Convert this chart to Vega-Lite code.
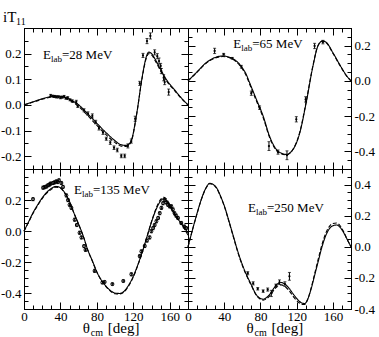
{
"$schema": "https://vega.github.io/schema/vega-lite/v6.json",
"padding": {"left": -1, "top": 9, "right": 0, "bottom": 0},
"bounds": "flush",
"spacing": 0,
"columns": 2,
"config": {
  "font": "Liberation Serif",
  "view": {"stroke": "black", "strokeWidth": 1},
  "axis": {"domainColor": "black", "tickColor": "black", "labelColor": "black", "labelFont": "Liberation Serif", "labelFontSize": 13, "grid": false, "domainWidth": 1, "tickWidth": 1, "title": null, "labelFlush": false, "labelOverlap": false},
  "text": {"font": "Liberation Serif", "color": "black"}
},
"datasets": {
  "c28": [
    {"t":0,"v":0,"s":"solid"},{"t":10,"v":0.012,"s":"solid"},{"t":20,"v":0.024,"s":"solid"},{"t":30,"v":0.033,"s":"solid"},{"t":36,"v":0.035,"s":"solid"},{"t":42,"v":0.033,"s":"solid"},{"t":50,"v":0.022,"s":"solid"},{"t":60,"v":0.0,"s":"solid"},{"t":70,"v":-0.035,"s":"solid"},{"t":80,"v":-0.072,"s":"solid"},{"t":90,"v":-0.108,"s":"solid"},{"t":100,"v":-0.14,"s":"solid"},{"t":106,"v":-0.155,"s":"solid"},{"t":112,"v":-0.158,"s":"solid"},{"t":116,"v":-0.15,"s":"solid"},{"t":119,"v":-0.125,"s":"solid"},{"t":122,"v":-0.07,"s":"solid"},{"t":125,"v":-0.005,"s":"solid"},{"t":128,"v":0.07,"s":"solid"},{"t":131,"v":0.135,"s":"solid"},{"t":134,"v":0.185,"s":"solid"},{"t":137,"v":0.206,"s":"solid"},{"t":140,"v":0.2,"s":"solid"},{"t":144,"v":0.178,"s":"solid"},{"t":150,"v":0.138,"s":"solid"},{"t":158,"v":0.09,"s":"solid"},{"t":165,"v":0.06,"s":"solid"},{"t":172,"v":0.03,"s":"solid"},{"t":180,"v":0.0,"s":"solid"},
    {"t":0,"v":0,"s":"dashed"},{"t":10,"v":0.011,"s":"dashed"},{"t":20,"v":0.022,"s":"dashed"},{"t":30,"v":0.03,"s":"dashed"},{"t":36,"v":0.032,"s":"dashed"},{"t":42,"v":0.03,"s":"dashed"},{"t":50,"v":0.018,"s":"dashed"},{"t":60,"v":-0.006,"s":"dashed"},{"t":70,"v":-0.042,"s":"dashed"},{"t":80,"v":-0.08,"s":"dashed"},{"t":90,"v":-0.116,"s":"dashed"},{"t":100,"v":-0.147,"s":"dashed"},{"t":106,"v":-0.16,"s":"dashed"},{"t":112,"v":-0.162,"s":"dashed"},{"t":116,"v":-0.153,"s":"dashed"},{"t":119,"v":-0.128,"s":"dashed"},{"t":122,"v":-0.072,"s":"dashed"},{"t":125,"v":-0.006,"s":"dashed"},{"t":128,"v":0.068,"s":"dashed"},{"t":131,"v":0.132,"s":"dashed"},{"t":134,"v":0.18,"s":"dashed"},{"t":137,"v":0.2,"s":"dashed"},{"t":140,"v":0.195,"s":"dashed"},{"t":144,"v":0.172,"s":"dashed"},{"t":150,"v":0.133,"s":"dashed"},{"t":158,"v":0.086,"s":"dashed"},{"t":165,"v":0.057,"s":"dashed"},{"t":172,"v":0.028,"s":"dashed"},{"t":180,"v":0.0,"s":"dashed"}
  ],
  "d28": [
    {"t":29.3,"v":0.037,"e":0.004},{"t":31.5,"v":0.034,"e":0.004},{"t":33.5,"v":0.033,"e":0.004},{"t":35.5,"v":0.031,"e":0.004},{"t":37.5,"v":0.031,"e":0.004},{"t":40,"v":0.028,"e":0.004},{"t":42,"v":0.03,"e":0.004},{"t":44,"v":0.033,"e":0.004},{"t":46,"v":0.026,"e":0.004},{"t":48,"v":0.028,"e":0.004},{"t":50.5,"v":0.02,"e":0.004},{"t":53,"v":0.015,"e":0.005},{"t":57.4,"v":0.012,"e":0.006},{"t":59,"v":-0.005,"e":0.005},{"t":65.9,"v":-0.021,"e":0.006},{"t":70.2,"v":-0.034,"e":0.007},{"t":75,"v":-0.043,"e":0.008},{"t":78.7,"v":-0.067,"e":0.007},{"t":82.3,"v":-0.091,"e":0.007},{"t":86.7,"v":-0.108,"e":0.007},{"t":90.3,"v":-0.132,"e":0.006},{"t":94.7,"v":-0.147,"e":0.007},{"t":98.8,"v":-0.167,"e":0.007},{"t":102.4,"v":-0.176,"e":0.007},{"t":106.8,"v":-0.199,"e":0.007},{"t":110.5,"v":-0.199,"e":0.007},{"t":114,"v":-0.16,"e":0.008},{"t":117.8,"v":-0.141,"e":0.008},{"t":122,"v":-0.054,"e":0.01},{"t":127,"v":0.084,"e":0.008},{"t":130.6,"v":0.193,"e":0.008},{"t":135,"v":0.249,"e":0.01},{"t":138.7,"v":0.269,"e":0.012},{"t":143.4,"v":0.205,"e":0.01},{"t":146.3,"v":0.19,"e":0.01},{"t":148.2,"v":0.171,"e":0.012},{"t":150,"v":0.152,"e":0.01},{"t":150.7,"v":0.132,"e":0.01},{"t":153.3,"v":0.106,"e":0.012},{"t":154.4,"v":0.089,"e":0.01},{"t":158.8,"v":0.05,"e":0.012}
  ],
  "c65": [
    {"t":0,"v":0,"s":"solid"},{"t":9,"v":0.046,"s":"solid"},{"t":20,"v":0.103,"s":"solid"},{"t":29,"v":0.131,"s":"solid"},{"t":38.5,"v":0.141,"s":"solid"},{"t":49.5,"v":0.126,"s":"solid"},{"t":59,"v":0.081,"s":"solid"},{"t":64,"v":0.04,"s":"solid"},{"t":68,"v":-0.01,"s":"solid"},{"t":75.5,"v":-0.105,"s":"solid"},{"t":83,"v":-0.2,"s":"solid"},{"t":90,"v":-0.313,"s":"solid"},{"t":97.5,"v":-0.389,"s":"solid"},{"t":103,"v":-0.41,"s":"solid"},{"t":108.5,"v":-0.417,"s":"solid"},{"t":116,"v":-0.389,"s":"solid"},{"t":123.5,"v":-0.294,"s":"solid"},{"t":130.5,"v":-0.124,"s":"solid"},{"t":138,"v":0.084,"s":"solid"},{"t":143.5,"v":0.198,"s":"solid"},{"t":148.5,"v":0.226,"s":"solid"},{"t":153,"v":0.217,"s":"solid"},{"t":160,"v":0.16,"s":"solid"},{"t":169.5,"v":0.075,"s":"solid"},{"t":175,"v":0.03,"s":"solid"},{"t":180,"v":0.0,"s":"solid"},
    {"t":0,"v":0,"s":"dashed"},{"t":9,"v":0.044,"s":"dashed"},{"t":20,"v":0.1,"s":"dashed"},{"t":29,"v":0.128,"s":"dashed"},{"t":38.5,"v":0.138,"s":"dashed"},{"t":49.5,"v":0.122,"s":"dashed"},{"t":59,"v":0.075,"s":"dashed"},{"t":64,"v":0.033,"s":"dashed"},{"t":68,"v":-0.018,"s":"dashed"},{"t":75.5,"v":-0.113,"s":"dashed"},{"t":83,"v":-0.208,"s":"dashed"},{"t":90,"v":-0.32,"s":"dashed"},{"t":97.5,"v":-0.394,"s":"dashed"},{"t":103,"v":-0.414,"s":"dashed"},{"t":108.5,"v":-0.42,"s":"dashed"},{"t":116,"v":-0.388,"s":"dashed"},{"t":123.5,"v":-0.29,"s":"dashed"},{"t":130.5,"v":-0.118,"s":"dashed"},{"t":138,"v":0.088,"s":"dashed"},{"t":143.5,"v":0.2,"s":"dashed"},{"t":148.5,"v":0.226,"s":"dashed"},{"t":153,"v":0.215,"s":"dashed"},{"t":160,"v":0.157,"s":"dashed"},{"t":169.5,"v":0.072,"s":"dashed"},{"t":175,"v":0.028,"s":"dashed"},{"t":180,"v":0.0,"s":"dashed"}
  ],
  "d65": [
    {"t":29.4,"v":0.17,"e":0.015},{"t":39.4,"v":0.151,"e":0.005},{"t":48.9,"v":0.128,"e":0.005},{"t":58.9,"v":0.08,"e":0.008},{"t":69.9,"v":-0.07,"e":0.012},{"t":79.1,"v":-0.152,"e":0.01},{"t":89.4,"v":-0.37,"e":0.025},{"t":99.4,"v":-0.404,"e":0.012},{"t":109.3,"v":-0.422,"e":0.025},{"t":119.6,"v":-0.218,"e":0.015},{"t":129.9,"v":-0.105,"e":0.015},{"t":139.8,"v":0.198,"e":0.015},{"t":149,"v":0.22,"e":0.01}
  ],
  "c135": [
    {"t":0,"v":0,"s":"solid"},{"t":5,"v":0.06,"s":"solid"},{"t":10,"v":0.12,"s":"solid"},{"t":15,"v":0.17,"s":"solid"},{"t":20,"v":0.215,"s":"solid"},{"t":25,"v":0.25,"s":"solid"},{"t":30,"v":0.275,"s":"solid"},{"t":35,"v":0.288,"s":"solid"},{"t":40,"v":0.28,"s":"solid"},{"t":45,"v":0.245,"s":"solid"},{"t":50,"v":0.19,"s":"solid"},{"t":55,"v":0.115,"s":"solid"},{"t":60,"v":0.045,"s":"solid"},{"t":65,"v":-0.03,"s":"solid"},{"t":70,"v":-0.12,"s":"solid"},{"t":75,"v":-0.19,"s":"solid"},{"t":80,"v":-0.262,"s":"solid"},{"t":85,"v":-0.315,"s":"solid"},{"t":90,"v":-0.353,"s":"solid"},{"t":95,"v":-0.382,"s":"solid"},{"t":100,"v":-0.398,"s":"solid"},{"t":105,"v":-0.4,"s":"solid"},{"t":110,"v":-0.385,"s":"solid"},{"t":115,"v":-0.345,"s":"solid"},{"t":120,"v":-0.29,"s":"solid"},{"t":125,"v":-0.215,"s":"solid"},{"t":130,"v":-0.13,"s":"solid"},{"t":135,"v":-0.035,"s":"solid"},{"t":140,"v":0.06,"s":"solid"},{"t":145,"v":0.14,"s":"solid"},{"t":150,"v":0.195,"s":"solid"},{"t":153,"v":0.208,"s":"solid"},{"t":156,"v":0.2,"s":"solid"},{"t":160,"v":0.16,"s":"solid"},{"t":165,"v":0.11,"s":"solid"},{"t":170,"v":0.07,"s":"solid"},{"t":175,"v":0.03,"s":"solid"},{"t":180,"v":-0.01,"s":"solid"},
    {"t":0,"v":0,"s":"dashed"},{"t":5,"v":0.058,"s":"dashed"},{"t":10,"v":0.115,"s":"dashed"},{"t":15,"v":0.165,"s":"dashed"},{"t":20,"v":0.21,"s":"dashed"},{"t":25,"v":0.245,"s":"dashed"},{"t":30,"v":0.27,"s":"dashed"},{"t":35,"v":0.283,"s":"dashed"},{"t":40,"v":0.276,"s":"dashed"},{"t":45,"v":0.242,"s":"dashed"},{"t":50,"v":0.188,"s":"dashed"},{"t":55,"v":0.113,"s":"dashed"},{"t":60,"v":0.043,"s":"dashed"},{"t":65,"v":-0.032,"s":"dashed"},{"t":70,"v":-0.122,"s":"dashed"},{"t":75,"v":-0.192,"s":"dashed"},{"t":80,"v":-0.264,"s":"dashed"},{"t":85,"v":-0.317,"s":"dashed"},{"t":90,"v":-0.356,"s":"dashed"},{"t":95,"v":-0.386,"s":"dashed"},{"t":100,"v":-0.402,"s":"dashed"},{"t":105,"v":-0.404,"s":"dashed"},{"t":110,"v":-0.39,"s":"dashed"},{"t":115,"v":-0.35,"s":"dashed"},{"t":120,"v":-0.294,"s":"dashed"},{"t":125,"v":-0.218,"s":"dashed"},{"t":130,"v":-0.132,"s":"dashed"},{"t":135,"v":-0.035,"s":"dashed"},{"t":140,"v":0.063,"s":"dashed"},{"t":145,"v":0.148,"s":"dashed"},{"t":150,"v":0.205,"s":"dashed"},{"t":153,"v":0.218,"s":"dashed"},{"t":156,"v":0.21,"s":"dashed"},{"t":160,"v":0.17,"s":"dashed"},{"t":165,"v":0.117,"s":"dashed"},{"t":170,"v":0.072,"s":"dashed"},{"t":175,"v":0.025,"s":"dashed"},{"t":180,"v":-0.025,"s":"dashed"}
  ],
  "d135": [
    {"t":9.9,"v":0.206,"e":0.01},{"t":20.9,"v":0.28,"e":0.01},{"t":22.5,"v":0.283,"e":0.01},{"t":24.5,"v":0.287,"e":0.01},{"t":26.3,"v":0.295,"e":0.01},{"t":28,"v":0.3,"e":0.01},{"t":29.2,"v":0.306,"e":0.01},{"t":31.8,"v":0.31,"e":0.01},{"t":33.5,"v":0.314,"e":0.01},{"t":35.5,"v":0.32,"e":0.01},{"t":37,"v":0.316,"e":0.01},{"t":38.4,"v":0.327,"e":0.01},{"t":41,"v":0.31,"e":0.01},{"t":42.8,"v":0.285,"e":0.01},{"t":46.5,"v":0.23,"e":0.01},{"t":48.3,"v":0.2,"e":0.01},{"t":50,"v":0.17,"e":0.01},{"t":52,"v":0.15,"e":0.01},{"t":55.6,"v":0.074,"e":0.01},{"t":58,"v":0.04,"e":0.01},{"t":61,"v":-0.01,"e":0.01},{"t":63,"v":-0.04,"e":0.01},{"t":65.9,"v":-0.096,"e":0.01},{"t":67.5,"v":-0.12,"e":0.01},{"t":77.5,"v":-0.255,"e":0.01},{"t":86,"v":-0.33,"e":0.008},{"t":88.5,"v":-0.326,"e":0.008},{"t":97,"v":-0.34,"e":0.008},{"t":109,"v":-0.32,"e":0.008},{"t":117.8,"v":-0.277,"e":0.01},{"t":127,"v":-0.16,"e":0.01},{"t":128.8,"v":-0.13,"e":0.01},{"t":132.5,"v":-0.095,"e":0.01},{"t":135,"v":-0.06,"e":0.01},{"t":137.9,"v":-0.04,"e":0.01},{"t":139.8,"v":0.0,"e":0.01},{"t":141.7,"v":0.02,"e":0.01},{"t":143.4,"v":0.04,"e":0.01},{"t":145.3,"v":0.064,"e":0.01},{"t":147.2,"v":0.085,"e":0.01},{"t":149,"v":0.116,"e":0.01},{"t":150.8,"v":0.15,"e":0.01},{"t":152.6,"v":0.18,"e":0.01},{"t":154.4,"v":0.2,"e":0.01},{"t":156.2,"v":0.185,"e":0.01},{"t":158,"v":0.17,"e":0.01},{"t":159.8,"v":0.16,"e":0.01},{"t":161.7,"v":0.16,"e":0.01},{"t":163.5,"v":0.14,"e":0.01},{"t":165.3,"v":0.115,"e":0.01},{"t":167,"v":0.1,"e":0.01},{"t":169,"v":0.085,"e":0.01},{"t":172.6,"v":0.053,"e":0.01},{"t":176,"v":0.03,"e":0.01},{"t":178,"v":0.02,"e":0.01}
  ],
  "c250": [
    {"t":0,"v":0,"s":"solid"},{"t":5,"v":0.11,"s":"solid"},{"t":10,"v":0.215,"s":"solid"},{"t":15,"v":0.31,"s":"solid"},{"t":20,"v":0.38,"s":"solid"},{"t":24,"v":0.408,"s":"solid"},{"t":28,"v":0.4,"s":"solid"},{"t":32,"v":0.375,"s":"solid"},{"t":36,"v":0.325,"s":"solid"},{"t":40,"v":0.265,"s":"solid"},{"t":45,"v":0.17,"s":"solid"},{"t":50,"v":0.07,"s":"solid"},{"t":55,"v":-0.03,"s":"solid"},{"t":60,"v":-0.115,"s":"solid"},{"t":65,"v":-0.185,"s":"solid"},{"t":70,"v":-0.245,"s":"solid"},{"t":75,"v":-0.305,"s":"solid"},{"t":80,"v":-0.332,"s":"solid"},{"t":83,"v":-0.337,"s":"solid"},{"t":87,"v":-0.325,"s":"solid"},{"t":91,"v":-0.3,"s":"solid"},{"t":95,"v":-0.265,"s":"solid"},{"t":99,"v":-0.238,"s":"solid"},{"t":103,"v":-0.23,"s":"solid"},{"t":107,"v":-0.24,"s":"solid"},{"t":112,"v":-0.27,"s":"solid"},{"t":117,"v":-0.31,"s":"solid"},{"t":122,"v":-0.345,"s":"solid"},{"t":126,"v":-0.362,"s":"solid"},{"t":129,"v":-0.365,"s":"solid"},{"t":132,"v":-0.34,"s":"solid"},{"t":136,"v":-0.27,"s":"solid"},{"t":140,"v":-0.18,"s":"solid"},{"t":144,"v":-0.09,"s":"solid"},{"t":148,"v":0.0,"s":"solid"},{"t":152,"v":0.07,"s":"solid"},{"t":156,"v":0.115,"s":"solid"},{"t":160,"v":0.135,"s":"solid"},{"t":164,"v":0.14,"s":"solid"},{"t":168,"v":0.125,"s":"solid"},{"t":172,"v":0.09,"s":"solid"},{"t":176,"v":0.045,"s":"solid"},{"t":180,"v":0.0,"s":"solid"},
    {"t":0,"v":0,"s":"dashed"},{"t":5,"v":0.11,"s":"dashed"},{"t":10,"v":0.213,"s":"dashed"},{"t":15,"v":0.308,"s":"dashed"},{"t":20,"v":0.378,"s":"dashed"},{"t":24,"v":0.406,"s":"dashed"},{"t":28,"v":0.398,"s":"dashed"},{"t":32,"v":0.372,"s":"dashed"},{"t":36,"v":0.322,"s":"dashed"},{"t":40,"v":0.262,"s":"dashed"},{"t":45,"v":0.166,"s":"dashed"},{"t":50,"v":0.065,"s":"dashed"},{"t":55,"v":-0.035,"s":"dashed"},{"t":60,"v":-0.12,"s":"dashed"},{"t":65,"v":-0.19,"s":"dashed"},{"t":70,"v":-0.25,"s":"dashed"},{"t":75,"v":-0.308,"s":"dashed"},{"t":80,"v":-0.337,"s":"dashed"},{"t":83,"v":-0.343,"s":"dashed"},{"t":87,"v":-0.333,"s":"dashed"},{"t":91,"v":-0.31,"s":"dashed"},{"t":95,"v":-0.278,"s":"dashed"},{"t":99,"v":-0.252,"s":"dashed"},{"t":103,"v":-0.245,"s":"dashed"},{"t":107,"v":-0.255,"s":"dashed"},{"t":112,"v":-0.285,"s":"dashed"},{"t":117,"v":-0.325,"s":"dashed"},{"t":122,"v":-0.357,"s":"dashed"},{"t":126,"v":-0.37,"s":"dashed"},{"t":129,"v":-0.37,"s":"dashed"},{"t":132,"v":-0.34,"s":"dashed"},{"t":136,"v":-0.265,"s":"dashed"},{"t":140,"v":-0.17,"s":"dashed"},{"t":144,"v":-0.075,"s":"dashed"},{"t":148,"v":0.015,"s":"dashed"},{"t":152,"v":0.085,"s":"dashed"},{"t":156,"v":0.13,"s":"dashed"},{"t":160,"v":0.15,"s":"dashed"},{"t":164,"v":0.153,"s":"dashed"},{"t":168,"v":0.135,"s":"dashed"},{"t":172,"v":0.095,"s":"dashed"},{"t":176,"v":0.045,"s":"dashed"},{"t":180,"v":0.0,"s":"dashed"}
  ],
  "d250": [
    {"t":66,"v":-0.17,"e":0.01},{"t":72,"v":-0.235,"e":0.01},{"t":77,"v":-0.27,"e":0.008},{"t":83,"v":-0.285,"e":0.008},{"t":88,"v":-0.275,"e":0.01},{"t":92,"v":-0.3,"e":0.02},{"t":97,"v":-0.25,"e":0.01},{"t":101,"v":-0.228,"e":0.015},{"t":107,"v":-0.24,"e":0.015},{"t":112,"v":-0.19,"e":0.025}
  ],
  "a28": [{"t":20.9,"v":0.178,"label":"=28 MeV"}],
  "a65": [{"t":50,"v":0.188,"label":"=65 MeV"}],
  "a135": [{"t":54.9,"v":0.237,"label":"=135 MeV"}],
  "a250": [{"t":66.3,"v":0.222,"label":"=250 MeV"}],
  "ytitle": [{"t":0,"v":0.3}],
  "xtBL": [{"t":64.6,"v":-0.5}],
  "xtBR": [{"t":64.6,"v":-0.4}]
},
"concat": [
  {"width": 164, "height": 141,
   "resolve": {"axis": {"x": "independent", "y": "independent"}},
   "layer": [
    {"data": {"name": "c28"}, "mark": {"type": "line", "color": "black", "strokeWidth": 1.1, "interpolate": "monotone"},
     "encoding": {
      "x": {"field": "t", "type": "quantitative", "scale": {"domain": [0,180], "nice": false, "zero": false},
            "axis": {"orient": "bottom", "values": [0,10,20,30,40,50,60,70,80,90,100,110,120,130,140,150,160,170,180], "labels": false, "tickSize": {"condition": {"test": "datum.value % 40 === 0", "value": -7}, "value": -4}}},
      "y": {"field": "v", "type": "quantitative", "scale": {"domain": [-0.25,0.3], "nice": false, "zero": false},
            "axis": {"orient": "left", "values": [-0.25,-0.2,-0.15,-0.1,-0.05,0,0.05,0.1,0.15,0.2,0.25,0.3], "tickSize": {"condition": {"test": "abs(datum.value*10-round(datum.value*10))<0.001", "value": -7}, "value": -4}, "labelPadding": 10, "labelExpr": "abs(datum.value*10-round(datum.value*10))<0.001 && abs(datum.value)<0.25 ? replace(format(datum.value, '.1f'), '\u2212', '-') : ''"}},
      "strokeDash": {"field": "s", "type": "nominal", "scale": {"domain": ["solid","dashed"], "range": [[1,0],[4,2]]}, "legend": null}
     }},
    {"data": {"name": "d28"}, "mark": {"type": "errorbar", "ticks": {"size": 3}, "color": "black"},
     "encoding": {"x": {"field": "t", "type": "quantitative", "axis": null}, "y": {"field": "v", "type": "quantitative", "axis": null}, "yError": {"field": "e"}}},
    {"data": {"name": "d28"}, "mark": {"type": "point", "filled": true, "size": 5, "color": "black", "opacity": 1},
     "encoding": {
      "x": {"field": "t", "type": "quantitative", "axis": {"orient": "top", "values": [0,10,20,30,40,50,60,70,80,90,100,110,120,130,140,150,160,170,180], "labels": false, "tickSize": {"condition": {"test": "datum.value % 40 === 0", "value": -7}, "value": -4}}},
      "y": {"field": "v", "type": "quantitative", "axis": {"orient": "right", "values": [-0.25,-0.2,-0.15,-0.1,-0.05,0,0.05,0.1,0.15,0.2,0.25,0.3], "labels": false, "tickSize": {"condition": {"test": "abs(datum.value*10-round(datum.value*10))<0.001", "value": -7}, "value": -4}}}
     }},
    {"data": {"name": "a28"}, "mark": {"type": "text", "text": "E", "align": "left", "baseline": "alphabetic", "fontSize": 13},
     "encoding": {"x": {"field": "t", "type": "quantitative", "axis": null}, "y": {"field": "v", "type": "quantitative", "axis": null}}},
    {"data": {"name": "a28"}, "mark": {"type": "text", "text": "lab", "align": "left", "baseline": "alphabetic", "fontSize": 9, "dx": 8, "dy": 3},
     "encoding": {"x": {"field": "t", "type": "quantitative", "axis": null}, "y": {"field": "v", "type": "quantitative", "axis": null}}},
    {"data": {"name": "a28"}, "mark": {"type": "text", "align": "left", "baseline": "alphabetic", "fontSize": 13, "dx": 19},
     "encoding": {"x": {"field": "t", "type": "quantitative", "axis": null}, "y": {"field": "v", "type": "quantitative", "axis": null}, "text": {"field": "label"}}},
    {"data": {"name": "ytitle"}, "mark": {"type": "text", "text": "iT", "align": "left", "baseline": "alphabetic", "fontSize": 15, "dx": -21, "dy": -6},
     "encoding": {"x": {"field": "t", "type": "quantitative", "axis": null}, "y": {"field": "v", "type": "quantitative", "axis": null}}},
    {"data": {"name": "ytitle"}, "mark": {"type": "text", "text": "11", "align": "left", "baseline": "alphabetic", "fontSize": 10, "dx": -8, "dy": -3},
     "encoding": {"x": {"field": "t", "type": "quantitative", "axis": null}, "y": {"field": "v", "type": "quantitative", "axis": null}}}
   ]},
  {"width": 163, "height": 141,
   "resolve": {"axis": {"x": "independent", "y": "independent"}},
   "layer": [
    {"data": {"name": "c65"}, "mark": {"type": "line", "color": "black", "strokeWidth": 1.1, "interpolate": "monotone"},
     "encoding": {
      "x": {"field": "t", "type": "quantitative", "scale": {"domain": [0,180], "nice": false, "zero": false},
            "axis": {"orient": "bottom", "values": [0,10,20,30,40,50,60,70,80,90,100,110,120,130,140,150,160,170,180], "labels": false, "tickSize": {"condition": {"test": "datum.value % 40 === 0", "value": -7}, "value": -4}}},
      "y": {"field": "v", "type": "quantitative", "scale": {"domain": [-0.5,0.3], "nice": false, "zero": false},
            "axis": {"orient": "left", "values": [-0.5,-0.45,-0.4,-0.35,-0.3,-0.25,-0.2,-0.15,-0.1,-0.05,0,0.05,0.1,0.15,0.2,0.25,0.3], "labels": false, "tickSize": {"condition": {"test": "abs(datum.value*5-round(datum.value*5))<0.001", "value": -7}, "value": -4}}},
      "strokeDash": {"field": "s", "type": "nominal", "scale": {"domain": ["solid","dashed"], "range": [[1,0],[4,2]]}, "legend": null}
     }},
    {"data": {"name": "d65"}, "mark": {"type": "errorbar", "ticks": {"size": 3}, "color": "black"},
     "encoding": {"x": {"field": "t", "type": "quantitative", "axis": null}, "y": {"field": "v", "type": "quantitative", "axis": null}, "yError": {"field": "e"}}},
    {"data": {"name": "d65"}, "mark": {"type": "point", "filled": true, "size": 5, "color": "black", "opacity": 1},
     "encoding": {
      "x": {"field": "t", "type": "quantitative", "axis": {"orient": "top", "values": [0,10,20,30,40,50,60,70,80,90,100,110,120,130,140,150,160,170,180], "labels": false, "tickSize": {"condition": {"test": "datum.value % 40 === 0", "value": -7}, "value": -4}}},
      "y": {"field": "v", "type": "quantitative", "axis": {"orient": "right", "values": [-0.5,-0.45,-0.4,-0.35,-0.3,-0.25,-0.2,-0.15,-0.1,-0.05,0,0.05,0.1,0.15,0.2,0.25,0.3], "tickSize": {"condition": {"test": "abs(datum.value*5-round(datum.value*5))<0.001", "value": -7}, "value": -4}, "labelPadding": 10, "labelExpr": "abs(datum.value*5-round(datum.value*5))<0.001 ? replace(format(datum.value, '.1f'), '\u2212', '-') : ''"}}
     }},
    {"data": {"name": "a65"}, "mark": {"type": "text", "text": "E", "align": "left", "baseline": "alphabetic", "fontSize": 13},
     "encoding": {"x": {"field": "t", "type": "quantitative", "axis": null}, "y": {"field": "v", "type": "quantitative", "axis": null}}},
    {"data": {"name": "a65"}, "mark": {"type": "text", "text": "lab", "align": "left", "baseline": "alphabetic", "fontSize": 9, "dx": 8, "dy": 3},
     "encoding": {"x": {"field": "t", "type": "quantitative", "axis": null}, "y": {"field": "v", "type": "quantitative", "axis": null}}},
    {"data": {"name": "a65"}, "mark": {"type": "text", "align": "left", "baseline": "alphabetic", "fontSize": 13, "dx": 19},
     "encoding": {"x": {"field": "t", "type": "quantitative", "axis": null}, "y": {"field": "v", "type": "quantitative", "axis": null}, "text": {"field": "label"}}}
   ]},
  {"width": 164, "height": 140,
   "resolve": {"axis": {"x": "independent", "y": "independent"}},
   "layer": [
    {"data": {"name": "c135"}, "mark": {"type": "line", "color": "black", "strokeWidth": 1.1, "interpolate": "monotone"},
     "encoding": {
      "x": {"field": "t", "type": "quantitative", "scale": {"domain": [0,180], "nice": false, "zero": false},
            "axis": {"orient": "bottom", "values": [0,10,20,30,40,50,60,70,80,90,100,110,120,130,140,150,160,170,180], "tickSize": {"condition": {"test": "datum.value % 40 === 0", "value": -7}, "value": -4}, "labelPadding": 8, "labelExpr": "datum.value % 40 === 0 && datum.value < 180 ? datum.label : ''"}},
      "y": {"field": "v", "type": "quantitative", "scale": {"domain": [-0.5,0.4], "nice": false, "zero": false},
            "axis": {"orient": "left", "values": [-0.5,-0.45,-0.4,-0.35,-0.3,-0.25,-0.2,-0.15,-0.1,-0.05,0,0.05,0.1,0.15,0.2,0.25,0.3,0.35,0.4], "tickSize": {"condition": {"test": "abs(datum.value*5-round(datum.value*5))<0.001", "value": -7}, "value": -4}, "labelPadding": 10, "labelExpr": "abs(datum.value*5-round(datum.value*5))<0.001 && datum.value < 0.35 ? replace(format(datum.value, '.1f'), '\u2212', '-') : ''"}},
      "strokeDash": {"field": "s", "type": "nominal", "scale": {"domain": ["solid","dashed"], "range": [[1,0],[4,2]]}, "legend": null}
     }},
    {"data": {"name": "d135"}, "mark": {"type": "errorbar", "ticks": {"size": 3}, "color": "black"},
     "encoding": {"x": {"field": "t", "type": "quantitative", "axis": null}, "y": {"field": "v", "type": "quantitative", "axis": null}, "yError": {"field": "e"}}},
    {"data": {"name": "d135"}, "mark": {"type": "point", "filled": false, "size": 9, "color": "black", "strokeWidth": 1, "opacity": 1},
     "encoding": {
      "x": {"field": "t", "type": "quantitative", "axis": {"orient": "top", "values": [0,10,20,30,40,50,60,70,80,90,100,110,120,130,140,150,160,170,180], "labels": false, "tickSize": {"condition": {"test": "datum.value % 40 === 0", "value": -7}, "value": -4}}},
      "y": {"field": "v", "type": "quantitative", "axis": {"orient": "right", "values": [-0.5,-0.45,-0.4,-0.35,-0.3,-0.25,-0.2,-0.15,-0.1,-0.05,0,0.05,0.1,0.15,0.2,0.25,0.3,0.35,0.4], "labels": false, "tickSize": {"condition": {"test": "abs(datum.value*5-round(datum.value*5))<0.001", "value": -7}, "value": -4}}}
     }},
    {"data": {"name": "a135"}, "mark": {"type": "text", "text": "E", "align": "left", "baseline": "alphabetic", "fontSize": 13},
     "encoding": {"x": {"field": "t", "type": "quantitative", "axis": null}, "y": {"field": "v", "type": "quantitative", "axis": null}}},
    {"data": {"name": "a135"}, "mark": {"type": "text", "text": "lab", "align": "left", "baseline": "alphabetic", "fontSize": 9, "dx": 8, "dy": 3},
     "encoding": {"x": {"field": "t", "type": "quantitative", "axis": null}, "y": {"field": "v", "type": "quantitative", "axis": null}}},
    {"data": {"name": "a135"}, "mark": {"type": "text", "align": "left", "baseline": "alphabetic", "fontSize": 13, "dx": 19},
     "encoding": {"x": {"field": "t", "type": "quantitative", "axis": null}, "y": {"field": "v", "type": "quantitative", "axis": null}, "text": {"field": "label"}}},
    {"data": {"name": "xtBL"}, "mark": {"type": "text", "text": "θ", "align": "left", "baseline": "alphabetic", "fontSize": 15, "dy": 24},
     "encoding": {"x": {"field": "t", "type": "quantitative", "axis": null}, "y": {"field": "v", "type": "quantitative", "axis": null}}},
    {"data": {"name": "xtBL"}, "mark": {"type": "text", "text": "cm", "align": "left", "baseline": "alphabetic", "fontSize": 10, "dx": 8, "dy": 27},
     "encoding": {"x": {"field": "t", "type": "quantitative", "axis": null}, "y": {"field": "v", "type": "quantitative", "axis": null}}},
    {"data": {"name": "xtBL"}, "mark": {"type": "text", "text": "[deg]", "align": "left", "baseline": "alphabetic", "fontSize": 15, "dx": 25, "dy": 24},
     "encoding": {"x": {"field": "t", "type": "quantitative", "axis": null}, "y": {"field": "v", "type": "quantitative", "axis": null}}}
   ]},
  {"width": 163, "height": 140,
   "resolve": {"axis": {"x": "independent", "y": "independent"}},
   "layer": [
    {"data": {"name": "c250"}, "mark": {"type": "line", "color": "black", "strokeWidth": 1.1, "interpolate": "monotone"},
     "encoding": {
      "x": {"field": "t", "type": "quantitative", "scale": {"domain": [0,180], "nice": false, "zero": false},
            "axis": {"orient": "bottom", "values": [0,10,20,30,40,50,60,70,80,90,100,110,120,130,140,150,160,170,180], "tickSize": {"condition": {"test": "datum.value % 40 === 0", "value": -7}, "value": -4}, "labelPadding": 8, "labelExpr": "datum.value % 40 === 0 && datum.value < 180 ? datum.label : ''"}},
      "y": {"field": "v", "type": "quantitative", "scale": {"domain": [-0.4,0.5], "nice": false, "zero": false},
            "axis": {"orient": "left", "values": [-0.4,-0.35,-0.3,-0.25,-0.2,-0.15,-0.1,-0.05,0,0.05,0.1,0.15,0.2,0.25,0.3,0.35,0.4,0.45,0.5], "labels": false, "tickSize": {"condition": {"test": "abs(datum.value*5-round(datum.value*5))<0.001", "value": -7}, "value": -4}}},
      "strokeDash": {"field": "s", "type": "nominal", "scale": {"domain": ["solid","dashed"], "range": [[1,0],[4,2]]}, "legend": null}
     }},
    {"data": {"name": "d250"}, "mark": {"type": "errorbar", "ticks": {"size": 3}, "color": "black"},
     "encoding": {"x": {"field": "t", "type": "quantitative", "axis": null}, "y": {"field": "v", "type": "quantitative", "axis": null}, "yError": {"field": "e"}}},
    {"data": {"name": "d250"}, "mark": {"type": "point", "filled": true, "size": 5, "color": "black", "opacity": 1},
     "encoding": {
      "x": {"field": "t", "type": "quantitative", "axis": {"orient": "top", "values": [0,10,20,30,40,50,60,70,80,90,100,110,120,130,140,150,160,170,180], "labels": false, "tickSize": {"condition": {"test": "datum.value % 40 === 0", "value": -7}, "value": -4}}},
      "y": {"field": "v", "type": "quantitative", "axis": {"orient": "right", "values": [-0.4,-0.35,-0.3,-0.25,-0.2,-0.15,-0.1,-0.05,0,0.05,0.1,0.15,0.2,0.25,0.3,0.35,0.4,0.45,0.5], "tickSize": {"condition": {"test": "abs(datum.value*5-round(datum.value*5))<0.001", "value": -7}, "value": -4}, "labelPadding": 10, "labelExpr": "abs(datum.value*5-round(datum.value*5))<0.001 && datum.value < 0.45 ? replace(format(datum.value, '.1f'), '\u2212', '-') : ''"}}
     }},
    {"data": {"name": "a250"}, "mark": {"type": "text", "text": "E", "align": "left", "baseline": "alphabetic", "fontSize": 13},
     "encoding": {"x": {"field": "t", "type": "quantitative", "axis": null}, "y": {"field": "v", "type": "quantitative", "axis": null}}},
    {"data": {"name": "a250"}, "mark": {"type": "text", "text": "lab", "align": "left", "baseline": "alphabetic", "fontSize": 9, "dx": 8, "dy": 3},
     "encoding": {"x": {"field": "t", "type": "quantitative", "axis": null}, "y": {"field": "v", "type": "quantitative", "axis": null}}},
    {"data": {"name": "a250"}, "mark": {"type": "text", "align": "left", "baseline": "alphabetic", "fontSize": 13, "dx": 19},
     "encoding": {"x": {"field": "t", "type": "quantitative", "axis": null}, "y": {"field": "v", "type": "quantitative", "axis": null}, "text": {"field": "label"}}},
    {"data": {"name": "xtBR"}, "mark": {"type": "text", "text": "θ", "align": "left", "baseline": "alphabetic", "fontSize": 15, "dy": 24},
     "encoding": {"x": {"field": "t", "type": "quantitative", "axis": null}, "y": {"field": "v", "type": "quantitative", "axis": null}}},
    {"data": {"name": "xtBR"}, "mark": {"type": "text", "text": "cm", "align": "left", "baseline": "alphabetic", "fontSize": 10, "dx": 8, "dy": 27},
     "encoding": {"x": {"field": "t", "type": "quantitative", "axis": null}, "y": {"field": "v", "type": "quantitative", "axis": null}}},
    {"data": {"name": "xtBR"}, "mark": {"type": "text", "text": "[deg]", "align": "left", "baseline": "alphabetic", "fontSize": 15, "dx": 25, "dy": 24},
     "encoding": {"x": {"field": "t", "type": "quantitative", "axis": null}, "y": {"field": "v", "type": "quantitative", "axis": null}}}
   ]}
]
}
